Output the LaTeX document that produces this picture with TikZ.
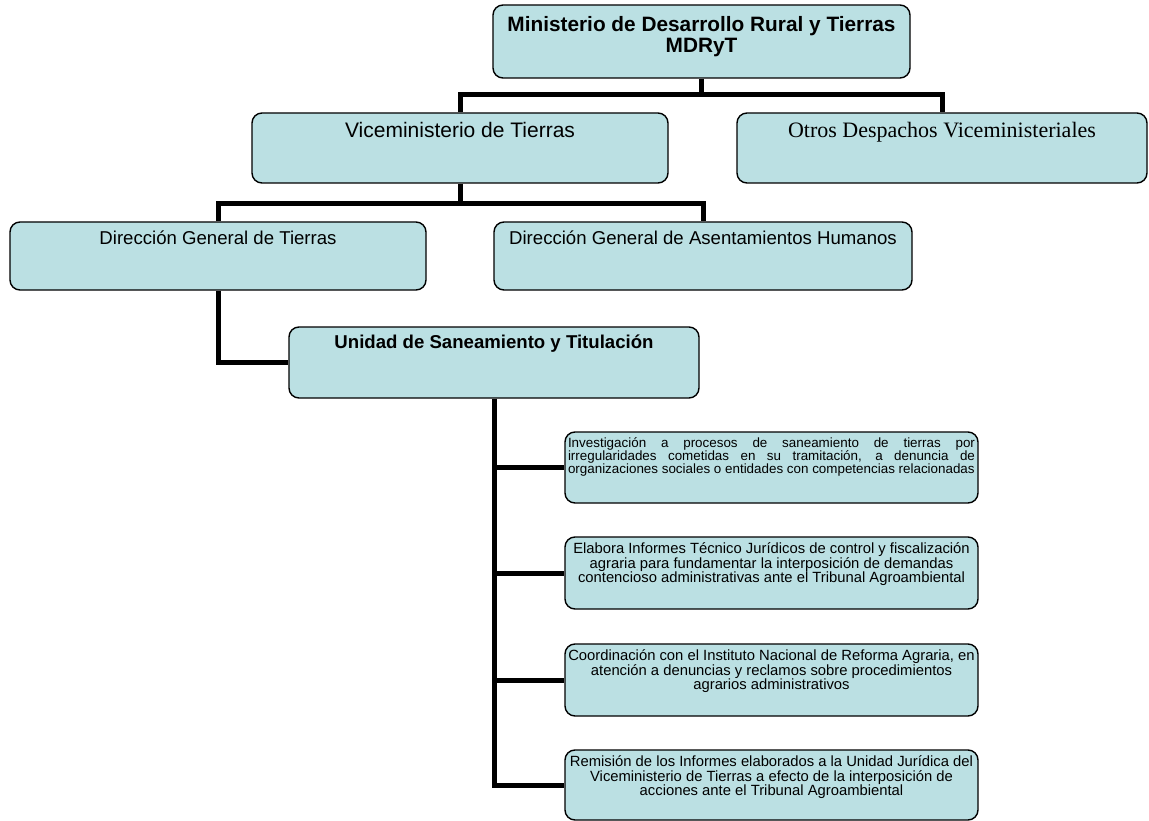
\documentclass[tikz,border=0pt]{standalone}
\usepackage{fontspec}
\setmainfont{Liberation Sans}
\newfontfamily\serifrm{Liberation Serif}
\definecolor{boxfill}{RGB}{187,224,227}
\newcommand{\toptext}[3]{\parbox[c][#1][t]{#2}{\lineskiplimit=-8pt\lineskip=0pt #3}}

\begin{document}
\begin{tikzpicture}[
		x = 1pt, y = -1pt,
		box/.style = {
			draw,
			fill = boxfill,
			line width = 1.4pt,
			rounded corners = 10pt,
			inner xsep = 3pt
		},
		link/.style = {
			line width = 5pt
		}
	]
	\useasboundingbox (0,0) rectangle (1149,821);

	% ministerio y viceministerios
	\node [box, inner ysep=11pt] (mdryt) at (701.5,41.5)
		{\toptext{51pt}{411pt}{\centering\fontsize{20.8}{21}\selectfont\bfseries Ministerio de Desarrollo Rural y Tierras\\MDRyT}};
	\node [box, inner ysep=9pt] (vice) at (460,148)
		{\toptext{52pt}{410pt}{\centering\fontsize{21}{22}\selectfont Viceministerio de Tierras}};
	\node [box, inner ysep=9pt] (otros) at (942,148)
		{\toptext{52pt}{404pt}{\centering\serifrm\fontsize{22}{23}\selectfont Otros Despachos Viceministeriales}};

	% direcciones
	\node [box, inner ysep=9pt] (dgt) at (218,256)
		{\toptext{50pt}{410pt}{\centering\fontsize{18.6}{20}\selectfont Dirección General de Tierras}};
	\node [box, inner ysep=9pt] (dgah) at (703,256)
		{\toptext{50pt}{412pt}{\centering\fontsize{18.6}{20}\selectfont Dirección General de Asentamientos Humanos}};

	\node [box, inner ysep=8pt] (usyt) at (494,362.5)
		{\toptext{55pt}{404pt}{\centering\fontsize{18.6}{20}\selectfont\bfseries Unidad de Saneamiento y Titulación}};

	% funciones de la unidad
	\node [box, inner ysep=6pt] (f1) at (771.5,467.5)
		{\toptext{59pt}{407pt}{\fontsize{13.4}{13}\selectfont\hyphenpenalty=10000
		Investigación a procesos de saneamiento de tierras por\linebreak irregularidades cometidas en su tramitación, a denuncia de\linebreak organizaciones sociales o entidades con competencias relacionadas}};
	\node [box, inner ysep=6pt] (f2) at (771.5,573)
		{\toptext{60pt}{407pt}{\centering\fontsize{14.8}{14.5}\selectfont
		Elabora Informes Técnico Jurídicos de control y fiscalización\\agraria para fundamentar la interposición de demandas\\contencioso administrativas ante el Tribunal Agroambiental}};
	\node [box, inner ysep=6pt] (f3) at (771.5,680)
		{\toptext{60pt}{407pt}{\centering\fontsize{14.8}{14.5}\selectfont
		Coordinación con el Instituto Nacional de Reforma Agraria, en\\atención a denuncias y reclamos sobre procedimientos\\agrarios administrativos}};
	\node [box, inner ysep=6pt] (f4) at (771.5,785)
		{\toptext{58pt}{407pt}{\centering\fontsize{14.8}{14.5}\selectfont
		Remisión de los Informes elaborados a la Unidad Jurídica del\\Viceministerio de Tierras a efecto de la interposición de\\acciones ante el Tribunal Agroambiental}};

	% conectores
	\coordinate (j1) at ([yshift=18pt]vice.north);
	\coordinate (j2) at ([yshift=-20pt]vice.south);

	\draw [link] (vice.north) |- (j1) -| (otros.north);
	\draw [link] (mdryt.south) -- (mdryt.south |- j1);

	\draw [link] (dgt.north) |- (j2) -| (dgah.north);
	\draw [link] (vice.south) -- (j2);

	\draw [link] (dgt.south) |- (usyt.west);

	\draw [link] (usyt.south) |- (f4.west);
	\foreach \f in {f1,f2,f3}
		\draw [link] (usyt.south |- \f.west) -- (\f.west);
\end{tikzpicture}
\end{document}
